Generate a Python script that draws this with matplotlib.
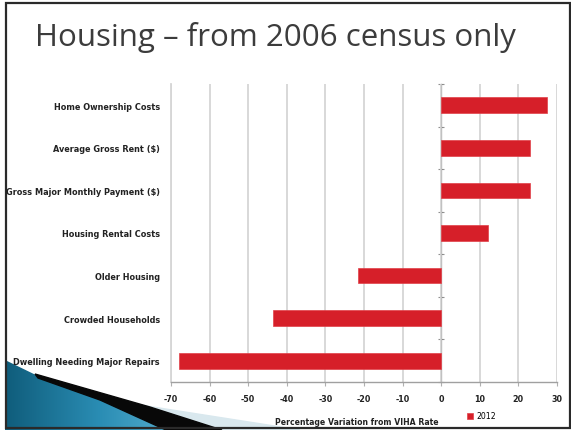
import matplotlib
matplotlib.use("Agg")
import matplotlib.pyplot as plt
import numpy as np
from matplotlib.patches import Polygon, Rectangle

# census housing indicators, % variation from the VIHA rate (2012)
categories = [
    "Home Ownership Costs",
    "Average Gross Rent ($)",
    "Gross Major Monthly Payment ($)",
    "Housing Rental Costs",
    "Older Housing",
    "Crowded Households",
    "Dwelling Needing Major Repairs",
]
values_2012 = [27.5, 23, 23, 12, -21.5, -43.5, -68]
x_ticks = [-70, -60, -50, -40, -30, -20, -10, 0, 10, 20, 30]

W, H = 571, 431
fig = plt.figure(figsize=(W / 100, H / 100), dpi=100)
fig.patch.set_facecolor("white")

# slide background layer in pixel coordinates
bg = fig.add_axes([0, 0, 1, 1])
bg.set_xlim(0, W)
bg.set_ylim(H, 0)
bg.axis("off")

# blue swoosh in the bottom-left corner
grad = np.linspace(0, 1, 256).reshape(1, -1)
swoosh_cmap = matplotlib.colors.LinearSegmentedColormap.from_list(
    "swoosh", ["#0e5a78", "#2a8db4", "#63b8d8"])
blue = bg.imshow(grad, extent=[0, 200, H, 355], cmap=swoosh_cmap, aspect="auto", zorder=1)
blue_clip = Polygon([(5, 361), (40, 378), (100, 400), (168, 431), (5, 431)], closed=True,
                    transform=bg.transData)
blue.set_clip_path(blue_clip)
bg.add_patch(Polygon([(140, 406), (300, 431), (215, 431)], closed=True,
                     color="#d9e8ee", zorder=1.5))
bg.add_patch(Polygon([(35, 375), (150, 408), (222, 431), (166, 431), (100, 401), (38, 379)],
                     closed=True, color="#080808", zorder=2))

# slide frame
bg.add_patch(Rectangle((6, 4), 564, 425, fill=False, edgecolor="#2a2a2a", lw=1.6, zorder=3))

fig.text(35 / W, 1 - 46 / H, "Housing \u2013 from 2006 census only", fontsize=22.5,
         family="Open Sans", color="#3c3c3c", ha="left", va="baseline")

ax = fig.add_axes([171 / W, 1 - 383 / H, (557 - 171) / W, (383 - 85) / H])
ax.set_facecolor("none")
y = np.arange(len(categories))
ax.barh(y, values_2012, height=0.37, color="#d61f29", edgecolor="#e04048", lw=0.5,
        label="2012", zorder=3)
ax.set_ylim(len(categories) - 0.5, -0.5)
ax.set_xlim(-70, 30)
ax.set_xticks(x_ticks)
ax.set_xticklabels([str(t) for t in x_ticks], fontsize=5.8, fontweight="bold", color="#222222")
ax.set_yticks(y)
ax.set_yticklabels(categories, fontsize=5.9, fontweight="bold", color="#222222")
ax.tick_params(axis="y", length=0, pad=8)
ax.tick_params(axis="x", length=3, color="#b0b0b0", pad=6)
ax.grid(axis="x", color="#d6d6d6", lw=1.3, zorder=0)
for s in ("top", "right"):
    ax.spines[s].set_visible(False)
ax.spines["left"].set_color("#d6d6d6")
ax.spines["left"].set_linewidth(1.3)
ax.spines["bottom"].set_color("#a0a0a0")
ax.spines["bottom"].set_linewidth(1.0)

# zero line carrying the category boundary ticks
zero = ax.secondary_yaxis(70 / 100)
zero.set_yticks(np.arange(len(categories) + 1) - 0.5)
zero.set_yticklabels([])
zero.tick_params(direction="inout", length=5, color="#909090", width=0.8)
zero.spines["left"].set_color("#707070")
zero.spines["left"].set_linewidth(1.0)

fig.text(357 / W, 1 - 423 / H, "Percentage Variation from VIHA Rate", fontsize=5.6,
         fontweight="bold", color="#222222", ha="center", va="center")
ax.legend(loc="center left", bbox_to_anchor=(463 / W, 1 - 417 / H),
          bbox_transform=fig.transFigure, frameon=False, fontsize=5.6,
          handlelength=0.8, handleheight=0.8, handletextpad=0.4, borderpad=0)

fig.savefig("out.png", dpi=100)
